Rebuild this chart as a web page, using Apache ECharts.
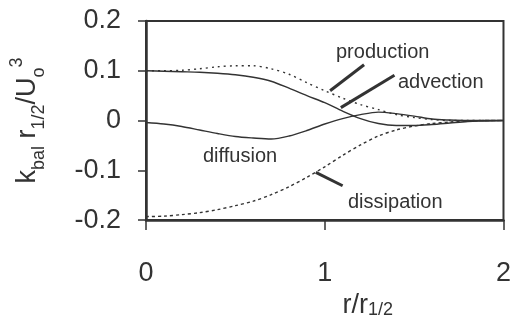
<!DOCTYPE html>
<html>
<head>
<meta charset="utf-8">
<script src="https://cdn.jsdelivr.net/npm/echarts@6/dist/echarts.min.js"></script>
<style>
  html, body { margin: 0; padding: 0; background: #fff; }
  #chart { width: 514px; height: 324px; }
</style>
</head>
<body>
<div id="chart"></div>
<script>
// r / r_1/2 sample positions
const rPos = [0, 0.1, 0.2, 0.3, 0.4, 0.5, 0.6, 0.7, 0.8, 0.9, 1.0,
  1.1, 1.2, 1.3, 1.4, 1.5, 1.6, 1.7, 1.8, 1.9, 2.0];
// budget terms
const production = [0.100, 0.100, 0.101, 0.104, 0.108, 0.110, 0.110, 0.104, 0.093, 0.076, 0.060,
  0.045, 0.032, 0.022, 0.012, 0.006, 0.002, 0.000, 0.000, 0.000, 0.000];
const advection = [0.100, 0.099, 0.098, 0.097, 0.095, 0.092, 0.087, 0.079, 0.065, 0.050, 0.036,
  0.019, 0.004, -0.006, -0.010, -0.010, -0.008, -0.005, -0.002, -0.001, 0.000];
const diffusion = [-0.004, -0.007, -0.012, -0.019, -0.026, -0.032, -0.035, -0.037, -0.031, -0.020, -0.007,
  0.004, 0.012, 0.017, 0.014, 0.009, 0.003, 0.001, 0.000, 0.000, 0.000];
const dissipation = [-0.193, -0.192, -0.189, -0.185, -0.179, -0.171, -0.162, -0.149, -0.133, -0.114, -0.093,
  -0.070, -0.049, -0.031, -0.019, -0.011, -0.006, -0.003, -0.001, 0.000, 0.000];
const xTicks = [0, 1, 2];
const yTicks = [-0.2, -0.1, 0, 0.1, 0.2];

const ink = '#333';
const font = 'Liberation Sans, Arial, sans-serif';

function pairs(vals) {
  return rPos.map((r, i) => [r, vals[i]]);
}

function leader(a, b) {
  return {
    silent: true,
    symbol: 'none',
    label: { show: false },
    lineStyle: { color: ink, width: 3, type: 'solid' },
    data: [[{ coord: a }, { coord: b }]],
  };
}

const chart = echarts.init(document.getElementById('chart'));

const option = {
  animation: false,
  backgroundColor: '#fff',
  grid: {
    left: 145, right: 6, top: 21, bottom: 87,
    show: true, borderColor: ink, borderWidth: 2,
  },
  xAxis: {
    type: 'value',
    min: 0, max: 2, interval: 1,
    name: 'r/r{sub|1/2}',
    nameLocation: 'middle',
    nameGap: 70,
    nameTextStyle: {
      color: ink, fontFamily: font, fontSize: 27,
      padding: [0, 0, 0, 86],
      rich: {
        sub: { fontSize: 18, fontFamily: font, color: ink, verticalAlign: 'bottom', lineHeight: 16 },
      },
    },
    axisLine: { onZero: false, lineStyle: { color: ink, width: 2.5 } },
    axisTick: { inside: false, length: 10, lineStyle: { color: ink, width: 1.5 } },
    axisLabel: {
      margin: 40, color: ink, fontFamily: font, fontSize: 27,
      formatter: v => (xTicks.includes(v) ? String(v) : ''),
    },
    splitLine: { show: false },
  },
  yAxis: {
    type: 'value',
    min: -0.2, max: 0.2, interval: 0.1,
    name: 'k{sub|bal} r{sub|1/2}/U{sub|o}{sup|3}',
    nameLocation: 'middle',
    nameRotate: 90,
    nameGap: 98,
    nameTextStyle: {
      color: ink, fontFamily: font, fontSize: 27, lineHeight: 40,
      rich: {
        sub: { fontSize: 18, fontFamily: font, color: ink, verticalAlign: 'bottom', lineHeight: 16 },
        sup: { fontSize: 18, fontFamily: font, color: ink, verticalAlign: 'top', lineHeight: 16 },
      },
    },
    axisLine: { onZero: false, lineStyle: { color: ink, width: 2.5 } },
    axisTick: { inside: false, length: 8, lineStyle: { color: ink, width: 1.5 } },
    axisLabel: {
      margin: 25, color: ink, fontFamily: font, fontSize: 27,
      formatter: v => {
        const t = yTicks.find(k => Math.abs(k - v) < 1e-9);
        if (t === undefined) return '';
        return t === 0 ? '0' : String(t);
      },
    },
    splitLine: { show: false },
  },
  series: [
    {
      name: 'production', type: 'line', smooth: 0.3, symbol: 'none',
      data: pairs(production),
      lineStyle: { color: ink, width: 1.4, type: [2, 4] },
      markLine: leader([1.03, 0.060], [1.22, 0.112]),
    },
    {
      name: 'advection', type: 'line', smooth: 0.3, symbol: 'none',
      data: pairs(advection),
      lineStyle: { color: ink, width: 1.4 },
      markLine: leader([1.09, 0.026], [1.39, 0.091]),
    },
    {
      name: 'diffusion', type: 'line', smooth: 0.3, symbol: 'none',
      data: pairs(diffusion),
      lineStyle: { color: ink, width: 1.4 },
    },
    {
      name: 'dissipation', type: 'line', smooth: 0.3, symbol: 'none',
      data: pairs(dissipation),
      lineStyle: { color: ink, width: 1.4, type: [3, 3] },
      markLine: leader([0.95, -0.104], [1.10, -0.131]),
    },
  ],
  graphic: [
    { type: 'text', left: 336, top: 42, style: { text: 'production', fill: ink, font: `20px ${font}` } },
    { type: 'text', left: 398, top: 72, style: { text: 'advection', fill: ink, font: `20px ${font}` } },
    { type: 'text', left: 203, top: 146, style: { text: 'diffusion', fill: ink, font: `20px ${font}` } },
    { type: 'text', left: 348, top: 192, style: { text: 'dissipation', fill: ink, font: `20px ${font}` } },
  ],
};

chart.setOption(option);
</script>
</body>
</html>
